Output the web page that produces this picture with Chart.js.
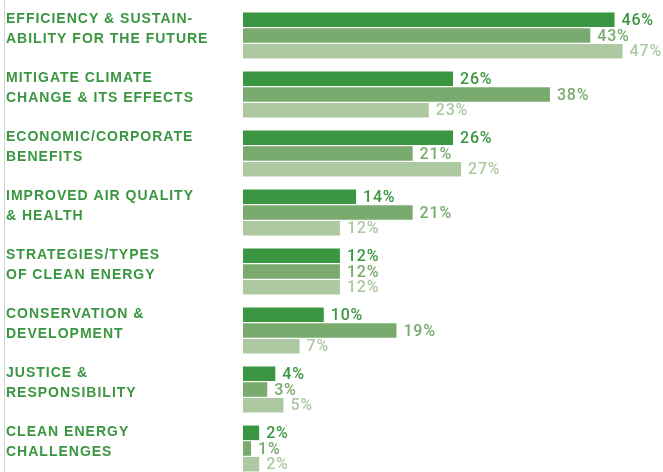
<!DOCTYPE html>
<html>
<head>
<meta charset="utf-8">
<script src="https://cdn.jsdelivr.net/npm/chart.js@4/dist/chart.umd.min.js"></script>
<style>
  html, body { margin: 0; padding: 0; background: #ffffff; overflow: hidden; }
  #wrap { position: relative; width: 663px; height: 478px; }
</style>
</head>
<body>
<div id="wrap"><canvas id="c" width="663" height="478"></canvas></div>
<script>
// Motivation categories (two-line labels)
const categories = [
  ['EFFICIENCY & SUSTAIN-', 'ABILITY FOR THE FUTURE'],
  ['MITIGATE CLIMATE', 'CHANGE & ITS EFFECTS'],
  ['ECONOMIC/CORPORATE', 'BENEFITS'],
  ['IMPROVED AIR QUALITY', '& HEALTH'],
  ['STRATEGIES/TYPES', 'OF CLEAN ENERGY'],
  ['CONSERVATION &', 'DEVELOPMENT'],
  ['JUSTICE &', 'RESPONSIBILITY'],
  ['CLEAN ENERGY', 'CHALLENGES']
];

// Share of responses (%) for the three groups
const seriesA = [46, 26, 26, 14, 12, 10, 4, 2];
const seriesB = [43, 38, 21, 21, 12, 19, 3, 1];
const seriesC = [47, 23, 27, 12, 12, 7, 5, 2];

const barColors = ['#3a9641', '#78ab6d', '#adc9a1'];
const labelColors = ['#3a9641', '#78ab6d', '#adc9a1'];

// Category names drawn at the left, top-aligned with each group of bars
const categoryLabels = {
  id: 'categoryLabels',
  afterDraw(chart) {
    const ctx = chart.ctx;
    const y = chart.scales.y;
    const band = (chart.chartArea.bottom - chart.chartArea.top) / categories.length;
    const groupH = band * chart.options.datasets.bar.categoryPercentage;
    ctx.save();
    // thin rule at the left edge
    ctx.strokeStyle = '#d4d4d4';
    ctx.lineWidth = 1;
    ctx.beginPath();
    ctx.moveTo(4.5, 0);
    ctx.lineTo(4.5, chart.height);
    ctx.stroke();

    ctx.fillStyle = '#3a9641';
    ctx.font = 'bold 14px "Liberation Sans", Arial, sans-serif';
    ctx.letterSpacing = '1px';
    ctx.textBaseline = 'alphabetic';
    ctx.textAlign = 'left';
    categories.forEach((lines, i) => {
      const top = y.getPixelForValue(i) - groupH / 2;
      lines.forEach((t, j) => {
        ctx.fillText(t, 6, top + 11 + j * 20);
      });
    });
    ctx.restore();
  }
};

// Percentage values at the end of each bar
const valueLabels = {
  id: 'valueLabels',
  afterDatasetsDraw(chart) {
    const ctx = chart.ctx;
    ctx.save();
    ctx.font = '500 16px Roboto, "Liberation Sans", sans-serif';
    ctx.letterSpacing = '0.8px';
    ctx.textBaseline = 'middle';
    ctx.textAlign = 'left';
    chart.data.datasets.forEach((ds, di) => {
      const meta = chart.getDatasetMeta(di);
      ctx.fillStyle = labelColors[di];
      meta.data.forEach((bar, i) => {
        ctx.fillText(ds.data[i] + '%', bar.x + 7, bar.y + 1);
      });
    });
    ctx.restore();
  }
};

new Chart(document.getElementById('c'), {
  type: 'bar',
  data: {
    labels: categories,
    datasets: [
      { label: 'A', data: seriesA, backgroundColor: barColors[0] },
      { label: 'B', data: seriesB, backgroundColor: barColors[1] },
      { label: 'C', data: seriesC, backgroundColor: barColors[2] }
    ]
  },
  options: {
    indexAxis: 'y',
    responsive: false,
    animation: false,
    layout: { padding: { left: 243, top: 6, right: 0, bottom: 0 } },
    datasets: { bar: { categoryPercentage: 0.797, barPercentage: 0.93 } },
    scales: {
      x: { display: false, min: 0, max: 52 },
      y: { display: false }
    },
    plugins: {
      legend: { display: false },
      tooltip: { enabled: false }
    }
  },
  plugins: [categoryLabels, valueLabels]
});
</script>
</body>
</html>
